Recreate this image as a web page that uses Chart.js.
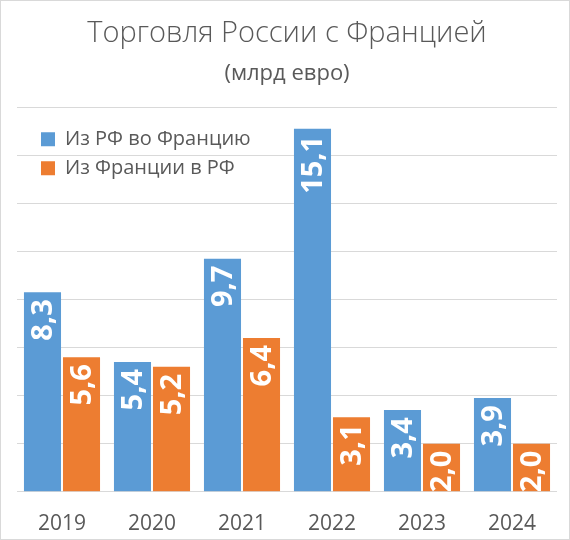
<!DOCTYPE html>
<html>
<head>
<meta charset="utf-8">
<script src="https://cdn.jsdelivr.net/npm/chart.js@4/dist/chart.umd.min.js"></script>
<style>
  html, body { margin: 0; padding: 0; background: #fff; }
  #wrap { width: 568px; height: 538px; border: 1px solid #d9d9d9; }
</style>
</head>
<body>
<div id="wrap"><canvas id="chart" width="568" height="538"></canvas></div>
<script>
// Data
const years = ['2019', '2020', '2021', '2022', '2023', '2024'];
const fromRussia = [8.3, 5.4, 9.7, 15.1, 3.4, 3.9];
const fromFrance = [5.6, 5.2, 6.4, 3.1, 2.0, 2.0];

const FONT = "'Open Sans', sans-serif";

// rotated white value labels near the top of each bar
const barLabels = {
  id: 'barLabels',
  afterDatasetsDraw(chart) {
    const ctx = chart.ctx;
    ctx.save();
    ctx.fillStyle = '#ffffff';
    ctx.font = 'bold 29px ' + FONT;
    ctx.textAlign = 'right';
    ctx.textBaseline = 'middle';
    chart.data.datasets.forEach((ds, i) => {
      const meta = chart.getDatasetMeta(i);
      meta.data.forEach((bar, j) => {
        const txt = ds.data[j].toFixed(1).replace('.', ',');
        ctx.save();
        ctx.translate(bar.x, bar.y + 7);
        ctx.rotate(-Math.PI / 2);
        ctx.fillText(txt, 0, 1);
        ctx.restore();
      });
    });
    ctx.restore();
  }
};

// put the legend in the upper left corner of the plot area
const legendPlace = {
  id: 'legendPlace',
  afterLayout(chart) {
    const lg = chart.legend;
    if (!lg) return;
    const w = lg.width, h = lg.height;
    lg.left = chart.chartArea.left + 15;
    lg.top = chart.chartArea.top + 13;
    lg.right = lg.left + w;
    lg.bottom = lg.top + h;
  }
};

new Chart(document.getElementById('chart'), {
  type: 'bar',
  data: {
    labels: years,
    datasets: [
      { label: 'Из РФ во Францию', data: fromRussia, backgroundColor: '#5b9bd5' },
      { label: 'Из Франции в РФ', data: fromFrance, backgroundColor: '#ed7d31' }
    ]
  },
  options: {
    responsive: false,
    animation: false,
    events: [],
    layout: { padding: { left: 16, right: 12, top: 0, bottom: -18 } },
    datasets: {
      bar: { categoryPercentage: 0.867, barPercentage: 0.95 }
    },
    plugins: {
      title: {
        display: true,
        text: 'Торговля России с Францией',
        color: '#595959',
        font: { family: FONT, size: 29, weight: '300' },
        padding: { top: 15, bottom: 10 }
      },
      subtitle: {
        display: true,
        text: '(млрд евро)',
        color: '#595959',
        font: { family: FONT, size: 22 },
        padding: { top: 0, bottom: 20 }
      },
      legend: {
        position: 'chartArea',
        fullSize: false,
        align: 'start',
        labels: {
          color: '#595959',
          font: { family: FONT, size: 20 },
          boxWidth: 14,
          boxHeight: 14,
          padding: 9
        }
      },
      tooltip: { enabled: false }
    },
    scales: {
      x: {
        grid: { display: false, drawTicks: false },
        border: { display: false },
        ticks: { color: '#595959', font: { family: FONT, size: 21 }, padding: 20 }
      },
      y: {
        min: 0,
        max: 16,
        ticks: { stepSize: 2, display: false },
        border: { display: false },
        grid: { color: '#d9d9d9', drawTicks: false }
      }
    }
  },
  plugins: [barLabels, legendPlace]
});
</script>
</body>
</html>
